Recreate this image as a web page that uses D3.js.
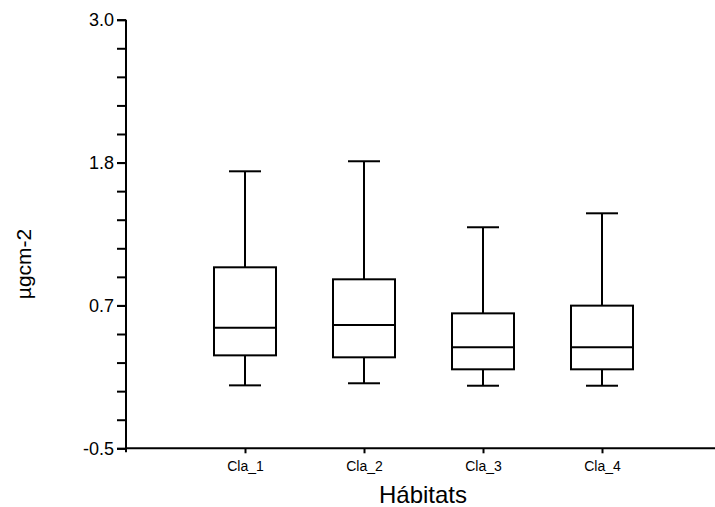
<!DOCTYPE html>
<html lang="en">
<head>
    <meta charset="UTF-8">
    <title>Hábitats boxplot</title>
    <script src="https://d3js.org/d3.v7.min.js"></script>
    <style>
        body { margin: 0; background: #fff; }
        svg text { font-family: "Liberation Sans", Arial, sans-serif; fill: #000; }
        .axis path, .axis line { stroke: #000; stroke-width: 2px; }
    </style>
</head>
<body>
    <svg id="chart"></svg>

    <script>
        // Box plot summaries
        const categories = ["Cla_1", "Cla_2", "Cla_3", "Cla_4"];
        const mins    = [0.014, 0.031, 0.011, 0.011];
        const q1s     = [0.259, 0.243, 0.145, 0.145];
        const medians = [0.485, 0.507, 0.325, 0.325];
        const q3s     = [0.978, 0.880, 0.602, 0.665];
        const maxs    = [1.762, 1.844, 1.305, 1.419];

        const yMin = -0.5, yMax = 3.0;
        const majorTicks = d3.range(4).map(i => yMin + i * (yMax - yMin) / 3);
        const minorTicks = d3.range(16).map(i => yMin + i * (yMax - yMin) / 15);

        const width = 715, height = 507;
        const plotLeft = 126, plotBottom = 448.3, plotTop = 19.7;

        const svg = d3.select("#chart")
            .attr("width", width)
            .attr("height", height);

        const x = d3.scalePoint()
            .domain(categories)
            .range([plotLeft, 721])
            .padding(1);

        const y = d3.scaleLinear()
            .domain([yMin, yMax])
            .range([plotBottom, plotTop]);

        // y axis: minor ticks without labels, then major ticks with labels
        svg.append("g")
            .attr("class", "axis")
            .attr("transform", `translate(${plotLeft},0)`)
            .call(d3.axisLeft(y).tickValues(minorTicks).tickSize(9).tickSizeOuter(0).tickFormat(""))
            .call(g => g.select(".domain").attr("d", `M0,${plotTop}V${plotBottom + 4}`));

        svg.append("g")
            .attr("class", "axis")
            .attr("transform", `translate(${plotLeft},0)`)
            .call(d3.axisLeft(y).tickValues(majorTicks).tickSize(9).tickFormat(d => d.toFixed(1)))
            .call(g => g.select(".domain").remove())
            .call(g => g.selectAll("text").attr("font-size", 18).attr("x", -12));

        // x axis
        svg.append("g")
            .attr("class", "axis")
            .attr("transform", `translate(0,${plotBottom})`)
            .call(d3.axisBottom(x).tickSize(5).tickSizeOuter(0))
            .call(g => g.select(".domain").attr("d", `M${plotLeft},0H715`))
            .call(g => g.selectAll("text").attr("font-size", 14).attr("y", 23).attr("dy", 0));

        const boxW = 62, capW = 32;
        const boxes = svg.append("g")
            .selectAll("g")
            .data(categories)
            .join("g")
            .attr("fill", "none")
            .attr("stroke", "#000")
            .attr("stroke-width", 2);

        // whiskers
        boxes.append("line")
            .attr("x1", d => x(d)).attr("x2", d => x(d))
            .attr("y1", (d, i) => y(maxs[i])).attr("y2", (d, i) => y(q3s[i]));
        boxes.append("line")
            .attr("x1", d => x(d)).attr("x2", d => x(d))
            .attr("y1", (d, i) => y(q1s[i])).attr("y2", (d, i) => y(mins[i]));

        // caps
        boxes.append("line")
            .attr("x1", d => x(d) - capW / 2).attr("x2", d => x(d) + capW / 2)
            .attr("y1", (d, i) => y(maxs[i])).attr("y2", (d, i) => y(maxs[i]));
        boxes.append("line")
            .attr("x1", d => x(d) - capW / 2).attr("x2", d => x(d) + capW / 2)
            .attr("y1", (d, i) => y(mins[i])).attr("y2", (d, i) => y(mins[i]));

        // boxes
        boxes.append("rect")
            .attr("x", d => x(d) - boxW / 2)
            .attr("width", boxW)
            .attr("y", (d, i) => y(q3s[i]))
            .attr("height", (d, i) => y(q1s[i]) - y(q3s[i]));

        // medians
        boxes.append("line")
            .attr("x1", d => x(d) - boxW / 2).attr("x2", d => x(d) + boxW / 2)
            .attr("y1", (d, i) => y(medians[i])).attr("y2", (d, i) => y(medians[i]));

        // axis titles
        svg.append("text")
            .attr("x", 423)
            .attr("y", 503)
            .attr("text-anchor", "middle")
            .attr("font-size", 24)
            .text("Hábitats");

        svg.append("text")
            .attr("transform", "translate(31,264) rotate(-90)")
            .attr("text-anchor", "middle")
            .attr("font-size", 21)
            .text("µgcm-2");
    </script>
</body>
</html>
